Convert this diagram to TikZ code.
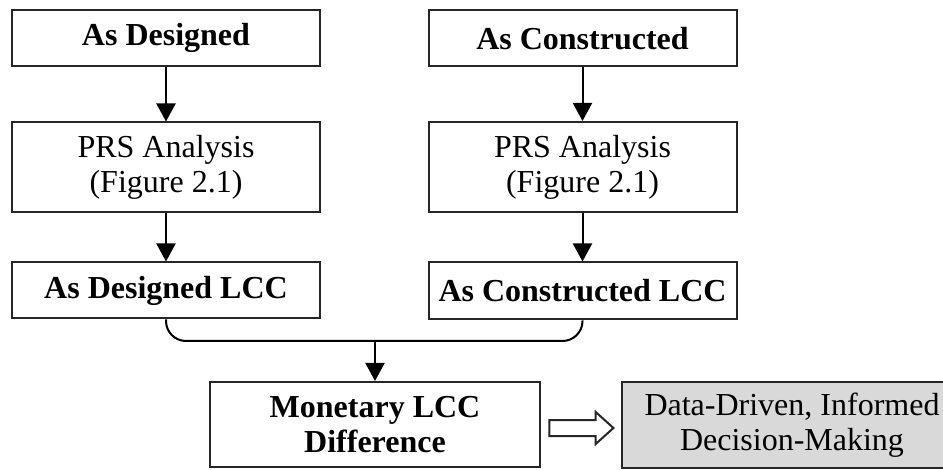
\documentclass[tikz,border=0pt]{standalone}
\usepackage{fontspec}
\setmainfont{Liberation Serif}
\usetikzlibrary{arrows.meta,shapes.arrows}

\begin{document}
\begin{tikzpicture}[x=0.5pt,y=-0.5pt,
        box/.style={draw=black!85, line width=1pt, inner sep=0pt, align=center,
            minimum width=154pt, font=\fontsize{16}{17.5}\selectfont},
        boldbox/.style={box, font=\fontsize{16}{17.5}\selectfont\bfseries},
        flow/.style={line width=1pt, -{Triangle[width=9.5pt,length=9pt]}},
        hollow/.style={single arrow, draw=black!85, line width=1pt, fill=white,
            inner sep=3.5pt, minimum height=32pt, single arrow head extend=4pt,
            single arrow tip angle=84}]
    \useasboundingbox (0,0) rectangle (943,470);

    % two columns
    \node[boldbox, minimum height=28pt] (dsgn) at (166,38) {As Designed};
    \node[boldbox, minimum height=28pt] (cnst) at (582.5,38.5) {As Constructed};
    \node[box, minimum height=45pt] (prsL) at (166,167.5) {PRS Analysis\\(Figure 2.1)};
    \node[box, minimum height=45pt] (prsR) at (582.5,167) {PRS Analysis\\(Figure 2.1)};
    \node[boldbox, minimum height=28pt] (lccL) at (166,290.5) {As Designed LCC};
    \node[boldbox, minimum height=28.5pt] (lccR) at (582.5,291) {As Constructed LCC};

    % result row
    \node[boldbox, minimum width=165pt, minimum height=42.5pt] (money) at (375,424.5) {Monetary LCC\\Difference};
    \node[box, fill=black!15, minimum width=170pt, minimum height=43pt] (decide) at (792,425) {Data-Driven, Informed\\Decision-Making};
    \node[hollow] (push) at (577,428) {};

    \draw[flow] (dsgn) -- (prsL);
    \draw[flow] (cnst) -- (prsR);
    \draw[flow] (prsL) -- (lccL);
    \draw[flow] (prsR) -- (lccR);

    % merge both LCC results
    \coordinate (join) at (375,341);
    \draw[line width=1pt, rounded corners=10pt] (lccL.south) |- (join) -| (lccR.south);
    \draw[flow] (join) -- (money);
\end{tikzpicture}
\end{document}
